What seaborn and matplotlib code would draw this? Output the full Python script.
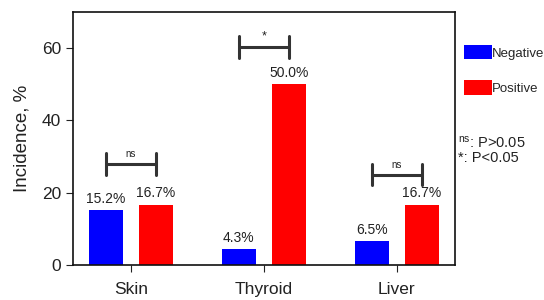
import pandas as pd
import matplotlib
matplotlib.use("Agg")
import matplotlib.pyplot as plt
import seaborn as sns

# data
sites = ["Skin", "Thyroid", "Liver"]
negative = [15.2, 4.3, 6.5]
positive = [16.7, 50.0, 16.7]
groups = ["Negative", "Positive"]
# significance marks per site (bracket height in %)
sig_marks = ["ns", "*", "ns"]
sig_heights = [28.0, 60.3, 25.0]

df = pd.DataFrame({
    "site": sites * 2,
    "group": [groups[0]] * 3 + [groups[1]] * 3,
    "value": negative + positive,
})

sns.set_style("ticks")
plt.rcParams["font.family"] = ["Liberation Sans", "DejaVu Sans"]
plt.rcParams["mathtext.default"] = "regular"

fig = plt.figure(figsize=(5.44, 3.0), dpi=100)
ax = fig.add_axes([0.134, 0.117, 0.702, 0.843])

sns.barplot(data=df, x="site", y="value", hue="group", order=sites,
            hue_order=groups, palette=["#0000ff", "#ff0000"],
            width=0.752, gap=0.32, ax=ax, errorbar=None,
            edgecolor="none", saturation=1)

# value labels
for cont in ax.containers:
    ax.bar_label(cont, labels=[f"{v:.1f}%" for v in cont.datavalues],
                 padding=3, fontsize=10, color="#222222")

# significance brackets
off = 0.752 / 4
for i, (mark, h) in enumerate(zip(sig_marks, sig_heights)):
    x0, x1 = i - off, i + off
    ax.plot([x0, x1], [h, h], color="#333333", lw=2.2, solid_capstyle="butt")
    ax.plot([x0, x0], [h - 3, h + 3], color="#333333", lw=2.2)
    ax.plot([x1, x1], [h - 3, h + 3], color="#333333", lw=2.2)
    ax.text(i, h + 1.2, mark, ha="center", va="bottom",
            fontsize=7 if mark == "ns" else 9, color="#222222")

ax.set_xlim(-0.436, 2.436)
ax.set_ylim(0, 70)
ax.set_yticks([0, 20, 40, 60])
ax.set_xlabel("")
ax.set_ylabel("Incidence, %", fontsize=13.5, color="#222222", labelpad=8)
ax.tick_params(labelsize=12.5, colors="#222222", length=5)
ax.tick_params(axis="x", pad=7)
for s in ax.spines.values():
    s.set_linewidth(1.2)
    s.set_color("#111111")

ax.legend(loc="upper left", bbox_to_anchor=(1.01, 0.89), frameon=False,
          fontsize=9.5, handlelength=2.1, handleheight=1.3,
          handletextpad=0.05, labelspacing=1.55, borderaxespad=0)

fig.text(0.842, 0.523, "$^{ns}$: P>0.05", fontsize=10.5, va="center", color="#222222")
fig.text(0.842, 0.473, "*: P<0.05", fontsize=10.5, va="center", color="#222222")

fig.savefig("out.png", dpi=100)
